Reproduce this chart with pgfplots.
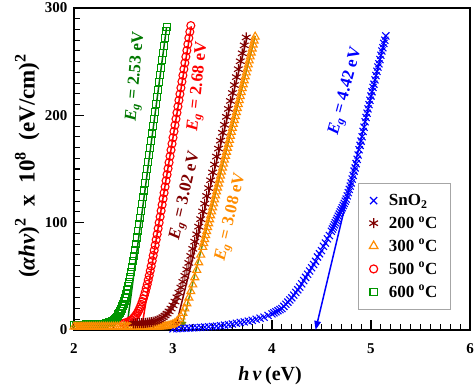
\documentclass[border=0pt]{standalone}
\usepackage{fontspec}
\setmainfont{Liberation Serif}
\usepackage{pgfplots}
\pgfplotsset{compat=1.18}
\usetikzlibrary{arrows.meta}
\definecolor{cgreen}{RGB}{0,150,0}
\definecolor{cgreenl}{RGB}{0,120,0}
\definecolor{cred}{RGB}{255,0,0}
\definecolor{cmaroon}{RGB}{128,0,0}
\definecolor{corange}{RGB}{255,140,0}
\definecolor{colive}{RGB}{120,140,0}
\definecolor{cblue}{RGB}{0,0,255}
\begin{document}
\begin{tikzpicture}
\begin{axis}[
  scale only axis, width=396pt, height=322pt,
  xmin=2, xmax=6, ymin=0, ymax=300,
  xtick={2,3,4,5,6}, ytick={0,100,200,300},
  minor x tick num=9, minor y tick num=9,
  tick align=inside, xtick pos=bottom, ytick pos=left,
  major tick length=10pt, minor tick length=6pt,
  every major tick/.append style={black, line width=1.3pt},
  every minor tick/.append style={black, line width=1.1pt},
  axis line style={line width=1.8pt},
  /pgf/number format/assume math mode=true,
  tick label style={font=\bfseries\fontsize{15}{17}\selectfont},
  xticklabel style={yshift=-10pt},
  yticklabel style={xshift=-3pt},
  xlabel={\textit{h}\,\textit{ν}\,(eV)},
  ylabel={(\textit{αhν})\textsuperscript{2}~ x ~10\textsuperscript{8}~~(eV/cm)\textsuperscript{2}},
  xlabel style={font=\bfseries\fontsize{20}{22}\selectfont, at={(axis description cs:0.495,-0.142)}, anchor=center},
  ylabel style={font=\bfseries\fontsize{23}{25}\selectfont, at={(axis description cs:-0.118,0.51)}, anchor=center},
  legend cell align=left,
  legend image code/.code={\draw[#1] plot coordinates {(0.3cm,0cm)};},
  legend style={at={(rel axis cs:0.717,0.457)}, anchor=north west, draw=gray!70, line width=0.8pt,
    font=\bfseries\fontsize{17}{19}\selectfont, row sep=5.5pt, inner xsep=11pt, inner ysep=9pt,
    /tikz/every odd column/.append style={column sep=9pt}},
]
\coordinate (ll) at (rel axis cs:0,0);
\coordinate (ur) at (rel axis cs:1,1);
\addlegendimage{only marks, mark=x, cblue, mark size=5pt, line width=1.2pt}
\addlegendentry{SnO\textsubscript{2}}
\addlegendimage{only marks, mark=asterisk, cmaroon, mark size=5pt, line width=1.2pt}
\addlegendentry{200 \textsuperscript{o}C}
\addlegendimage{only marks, mark=triangle, corange, mark size=5pt, line width=1.2pt}
\addlegendentry{300 \textsuperscript{o}C}
\addlegendimage{only marks, mark=o, cred, mark size=4pt, line width=1.2pt}
\addlegendentry{500 \textsuperscript{o}C}
\addlegendimage{only marks, mark=square, cgreen, mark size=3.6pt, line width=1.2pt}
\addlegendentry{600 \textsuperscript{o}C\hspace{8pt}}

% SnO2
\addplot[forget plot, only marks, mark=x, cblue, mark size=5pt, line width=1.1pt] coordinates {
(3.00,1.0) (3.04,1.2) (3.08,1.4) (3.12,1.6) (3.16,1.8) (3.20,2.0) (3.24,2.2) (3.28,2.4) (3.32,2.7) (3.36,3.0)
(3.40,3.3) (3.44,3.6) (3.48,4.0) (3.52,4.5) (3.56,5.0) (3.60,5.6) (3.64,6.3) (3.68,7.0) (3.72,7.6) (3.76,8.3)
(3.80,9.0) (3.84,10.0) (3.88,11.0) (3.92,12.0) (3.96,13.5) (4.00,15.0) (4.02,16) (4.04,17) (4.06,18) (4.08,19)
(4.10,20) (4.12,22) (4.14,24) (4.16,26) (4.18,28) (4.20,30) (4.22,32.5) (4.24,35) (4.26,37.5) (4.28,40)
(4.30,43) (4.32,46) (4.34,49) (4.36,52) (4.38,55) (4.40,58) (4.42,61) (4.44,64) (4.46,68) (4.48,71)
(4.50,74) (4.52,78) (4.54,81) (4.56,85) (4.58,88) (4.60,92) (4.61,94) (4.62,96) (4.63,98) (4.64,100)
(4.65,102) (4.66,104) (4.67,106) (4.68,108) (4.69,110) (4.70,112) (4.71,114) (4.72,116) (4.73,118) (4.74,120)
(4.75,122) (4.76,125) (4.77,128) (4.78,131) (4.79,134) (4.80,137) (4.81,140.6) (4.82,144) (4.83,148) (4.84,151)
(4.85,155) (4.86,159) (4.87,163) (4.88,168) (4.89,172) (4.90,176) (4.91,180) (4.92,185) (4.93,189) (4.94,194)
(4.95,198) (4.96,202) (4.97,206) (4.98,210) (4.99,214) (5.00,218) (5.01,222) (5.02,226) (5.03,229) (5.04,233)
(5.05,237) (5.06,241) (5.07,245) (5.08,248) (5.09,252) (5.10,256) (5.11,260) (5.12,263) (5.13,267) (5.14,270)
(5.15,274)
};

% 500 C
\addplot[forget plot, only marks, mark=o, cred, mark size=4pt, line width=1.1pt] coordinates {
(2.50,6.2) (2.52,6.7) (2.54,7.3) (2.56,8.2) (2.58,9.4) (2.60,11.0) (2.61,12.0) (2.62,13.1) (2.63,14.4) (2.64,15.9)
(2.65,17.6) (2.66,19.4) (2.67,21.6) (2.68,23.9) (2.69,26.5) (2.70,29.1) (2.71,32.2) (2.72,35.4) (2.73,39.0) (2.74,42.6)
(2.75,46.6) (2.76,50.7) (2.77,55.1) (2.78,59.6) (2.79,64.5) (2.80,69.4) (2.81,74.2) (2.82,79.0) (2.83,84.1) (2.84,89.2)
(2.85,94.6) (2.86,100.0) (2.87,105.5) (2.88,111.1) (2.89,116.7) (2.90,122.3) (2.91,127.8) (2.92,133.4) (2.93,139.1) (2.94,144.8)
(2.95,150.4) (2.96,156.0) (2.97,161.9) (2.98,167.7) (2.99,173.5) (3.00,179.2) (3.01,185.0) (3.02,190.8) (3.03,196.6) (3.04,202.4)
(3.05,208.2) (3.06,214.0) (3.07,219.8) (3.08,225.6) (3.09,231.4) (3.10,237.2) (3.11,243.0) (3.12,248.8) (3.13,254.6) (3.14,260.4)
(3.15,266.2) (3.16,272.0) (3.17,277.8) (3.18,283.6)
};

% 600 C
\addplot[forget plot, only marks, mark=square, cgreen, mark size=3.5pt, line width=1.1pt] coordinates {
(2.00,5.0) (2.02,5.0) (2.04,5.0) (2.06,5.0) (2.08,5.0) (2.10,5.0) (2.12,5.1) (2.14,5.1) (2.16,5.1) (2.18,5.2)
(2.20,5.3) (2.22,5.4) (2.24,5.5) (2.26,5.6) (2.28,5.7) (2.30,5.9) (2.31,6.0) (2.32,6.2) (2.33,6.4) (2.34,6.7)
(2.35,7.0) (2.36,7.3) (2.37,7.7) (2.38,8.2) (2.39,8.8) (2.40,9.4) (2.41,10.2) (2.42,11.1) (2.43,12.1) (2.44,13.2)
(2.45,14.6) (2.46,16.1) (2.47,17.8) (2.48,19.7) (2.49,22.0) (2.50,24.4) (2.51,27.2) (2.52,30.2) (2.53,33.5) (2.54,37.0)
(2.55,40.9) (2.56,44.9) (2.57,49.3) (2.58,53.8) (2.59,58.8) (2.60,64.0) (2.61,69.3) (2.62,74.7) (2.63,80.4) (2.64,86.2)
(2.65,92.3) (2.66,98.5) (2.67,104.6) (2.68,110.8) (2.69,117.1) (2.70,123.5) (2.71,130.0) (2.72,136.6) (2.73,143.1) (2.74,149.7)
(2.75,156.3) (2.76,162.9) (2.77,169.6) (2.78,176.4) (2.79,183.1) (2.80,189.8) (2.81,196.6) (2.82,203.4) (2.83,210.2) (2.84,217.0)
(2.85,223.9) (2.86,230.7) (2.87,237.5) (2.88,244.4) (2.89,251.2) (2.90,258.0) (2.91,264.9) (2.92,271.7) (2.93,278.5) (2.935,281.9)
};

% 300 C
\addplot[forget plot, only marks, mark=triangle, corange, mark size=4.6pt, line width=1.1pt] coordinates {
(2.00,3) (2.02,3) (2.04,3) (2.06,3) (2.08,3) (2.10,3) (2.12,3) (2.14,3) (2.16,3) (2.18,3)
(2.20,3) (2.22,3) (2.24,3) (2.26,3) (2.28,3) (2.30,3) (2.32,3) (2.34,3) (2.36,3) (2.38,3)
(2.40,3) (2.42,3) (2.44,3) (2.46,3) (2.48,3) (2.50,3) (2.52,3) (2.54,3) (2.56,3) (2.58,3)
(2.60,3) (2.62,3) (2.64,3) (2.66,3) (2.68,3) (2.70,3) (2.72,3) (2.74,3) (2.76,3) (2.78,3)
(2.80,3) (2.82,3) (2.84,3) (2.86,3) (2.88,3.2) (2.90,3.3) (2.92,3.5) (2.94,3.7) (2.96,4.1) (2.98,4.6)
(3.00,5.3) (3.02,6.4) (3.04,7.9) (3.06,9.9) (3.08,12.5) (3.10,15.8) (3.12,19.9) (3.14,24.7) (3.16,30.1) (3.18,36.0)
(3.20,42.3) (3.22,49.0) (3.24,55.9) (3.26,62.9) (3.28,70.1) (3.30,77.3) (3.31,80.8) (3.32,84.5) (3.33,88.2) (3.34,91.9)
(3.35,95.6) (3.36,99.3) (3.37,103.0) (3.38,106.7) (3.39,110.4) (3.40,114.1) (3.41,117.8) (3.42,121.5) (3.43,125.2) (3.44,128.9)
(3.45,132.6) (3.46,136.3) (3.47,140.0) (3.48,143.7) (3.49,147.4) (3.50,151.1) (3.51,154.8) (3.52,158.5) (3.53,162.2) (3.54,165.9)
(3.55,169.6) (3.56,173.3) (3.57,177.0) (3.58,180.7) (3.59,184.4) (3.60,188.1) (3.61,191.8) (3.62,195.5) (3.63,199.2) (3.64,202.9)
(3.65,206.6) (3.66,210.3) (3.67,214.0) (3.68,217.7) (3.69,221.4) (3.70,225.1) (3.71,228.8) (3.72,232.5) (3.73,236.2) (3.74,239.9)
(3.75,243.6) (3.76,247.3) (3.77,251.0) (3.78,254.7) (3.79,258.4) (3.80,262.1) (3.81,265.8) (3.82,269.5) (3.83,273.2)
};

% 200 C
\addplot[forget plot, only marks, mark=asterisk, cmaroon, mark size=5pt, line width=1.1pt] coordinates {
(2.60,6.2) (2.62,6.2) (2.64,6.3) (2.66,6.3) (2.68,6.4) (2.70,6.5) (2.72,6.7) (2.74,6.9) (2.76,7.1) (2.78,7.4)
(2.80,7.8) (2.82,8.3) (2.84,9.0) (2.86,9.8) (2.88,10.7) (2.90,11.9) (2.92,13.5) (2.94,15.3) (2.96,17.4) (2.98,20.0)
(3.00,23.0) (3.02,26.5) (3.04,30.5) (3.06,34.8) (3.08,39.6) (3.10,44.9) (3.12,50.5) (3.14,56.4) (3.16,62.5) (3.18,69.0)
(3.20,75.6) (3.22,82.3) (3.24,89.2) (3.26,96.3) (3.28,103.3) (3.30,110.5) (3.32,117.7) (3.34,124.9) (3.36,132.2) (3.38,139.5)
(3.40,146.8) (3.42,154.2) (3.44,161.6) (3.46,169.0) (3.48,176.4) (3.50,183.8) (3.52,191.2) (3.54,198.6) (3.56,206.0) (3.58,213.4)
(3.60,220.8) (3.62,228.2) (3.64,235.6) (3.66,243.0) (3.68,250.4) (3.70,257.8) (3.72,265.2) (3.74,272.6)
};

% fitted lines
\addplot[forget plot, cblue, line width=1.5pt, -{Triangle[length=9pt,width=6.5pt]}] coordinates {(5.15,275) (4.44,0)};
\addplot[forget plot, cmaroon, line width=1.5pt, -{Triangle[length=9pt,width=6.5pt]}] coordinates {(3.75,273) (3.02,0)};
\addplot[forget plot, colive, line width=1.5pt, -{Triangle[length=9pt,width=6.5pt]}] coordinates {(3.83,274) (3.08,0)};
\addplot[forget plot, cred, line width=1.5pt, -{Triangle[length=9pt,width=6.5pt]}] coordinates {(3.185,283) (2.68,0)};
\addplot[forget plot, cgreenl, line width=1.5pt, -{Triangle[length=9pt,width=6.5pt]}] coordinates {(2.935,282) (2.53,0)};

% labels
\node[rotate=85, text=cgreenl, font=\bfseries\fontsize{17}{19}\selectfont] at (axis cs:2.63,236) {\textit{E}\textsubscript{\textit{g}} = 2.53 eV};
\node[rotate=84, text=cred, font=\bfseries\fontsize{17}{19}\selectfont] at (axis cs:3.26,227) {\textit{E}\textsubscript{\textit{g}} = 2.68 eV};
\node[rotate=77, text=cmaroon, font=\bfseries\fontsize{17}{19}\selectfont] at (axis cs:3.13,125) {\textit{E}\textsubscript{\textit{g}} = 3.02 eV};
\node[rotate=77, text=corange, font=\bfseries\fontsize{17}{19}\selectfont] at (axis cs:3.59,105) {\textit{E}\textsubscript{\textit{g}} = 3.08 eV};
\node[rotate=75, text=cblue, font=\bfseries\fontsize{17}{19}\selectfont] at (axis cs:4.75,222) {\textit{E}\textsubscript{\textit{g}} = 4.42 eV};
\end{axis}
\pgfresetboundingbox
\path ([shift={(-74pt,-55pt)}]ll) rectangle ([shift={(4pt,8pt)}]ur);
\end{tikzpicture}
\end{document}
